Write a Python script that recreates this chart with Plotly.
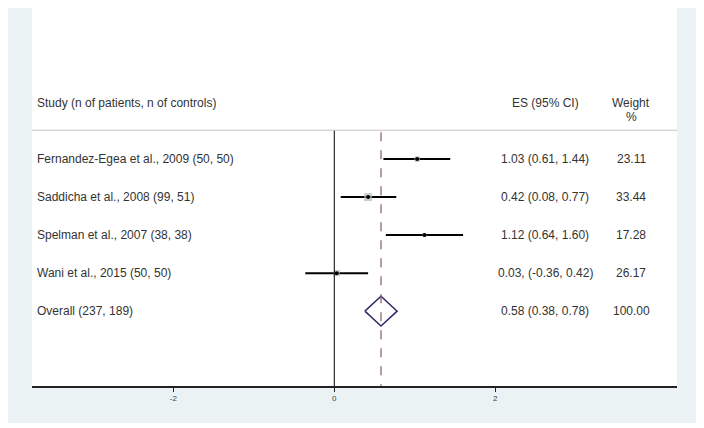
import plotly.graph_objects as go

studies = [
    "Fernandez-Egea et al., 2009 (50, 50)",
    "Saddicha et al., 2008 (99, 51)",
    "Spelman et al., 2007 (38, 38)",
    "Wani et al., 2015 (50, 50)",
]
es = [1.03, 0.42, 1.12, 0.03]
ci_low = [0.61, 0.08, 0.64, -0.36]
ci_high = [1.44, 0.77, 1.60, 0.42]
es_text = ["1.03 (0.61, 1.44)", "0.42 (0.08, 0.77)", "1.12 (0.64, 1.60)", "0.03, (-0.36, 0.42)"]
weights = [23.11, 33.44, 17.28, 26.17]
weight_text = ["23.11", "33.44", "17.28", "26.17"]

overall_label = "Overall (237, 189)"
overall_es = 0.58
overall_low = 0.38
overall_high = 0.78
overall_text = "0.58 (0.38, 0.78)"
overall_weight = "100.00"

x_ticks = [-2, 0, 2]

TEXT_COLOR = "#333333"
FONT = "Liberation Sans, Arial, sans-serif"

rows = list(range(len(studies)))
overall_row = len(studies)
header_row = -1.47
line_row = -0.76
y_bottom = 5.97
x_range = [-3.755, 4.257]
label_x = -3.72
es_col_x = 2.62
weight_col_x = 3.69

fig = go.Figure()

# confidence intervals
for r, lo, hi in zip(rows, ci_low, ci_high):
    fig.add_trace(
        go.Scatter(
            x=[lo, hi], y=[r, r], mode="lines",
            line=dict(color="black", width=2), hoverinfo="skip",
        )
    )

# weight boxes and point estimates
fig.add_trace(
    go.Scatter(
        x=es, y=rows, mode="markers",
        marker=dict(symbol="square", color="#b8b8b8", size=[w / 4.2 for w in weights], line=dict(width=0)),
        hoverinfo="skip",
    )
)
fig.add_trace(
    go.Scatter(
        x=es, y=rows, mode="markers",
        marker=dict(symbol="circle", color="black", size=4),
        hoverinfo="skip",
    )
)

# overall diamond
half_h = 0.39
fig.add_trace(
    go.Scatter(
        x=[overall_low, overall_es, overall_high, overall_es, overall_low],
        y=[overall_row, overall_row - half_h, overall_row, overall_row + half_h, overall_row],
        mode="lines", line=dict(color="#2e2b6b", width=1.5), hoverinfo="skip",
    )
)

# reference lines
fig.add_shape(type="line", x0=0, x1=0, y0=line_row, y1=y_bottom, xref="x", yref="y",
              line=dict(color="black", width=1))
fig.add_shape(type="line", x0=overall_es, x1=overall_es, y0=line_row + 0.05, y1=y_bottom, xref="x", yref="y",
              line=dict(color="#8a5a66", width=1.2, dash="dash"))
fig.add_shape(type="line", x0=0, x1=1, y0=line_row, y1=line_row, xref="paper", yref="y",
              line=dict(color="#c4c4c4", width=1))

# background panels (page has 8px body margin)
fig.add_shape(type="rect", xref="paper", yref="paper", x0=-0.05, x1=1.034, y0=-0.098, y1=1.01,
              fillcolor="#eaf2f3", line=dict(width=0), layer="below")
fig.add_shape(type="rect", xref="paper", yref="paper", x0=0, x1=1, y0=0, y1=1.01,
              fillcolor="white", line=dict(width=0), layer="below")

# text columns
def add_text(x, y, text, anchor):
    fig.add_annotation(x=x, y=y, xref="x", yref="y", text=text, showarrow=False,
                       xanchor=anchor, yanchor="middle", font=dict(size=12, color=TEXT_COLOR, family=FONT))

add_text(label_x, header_row, "Study (n of patients, n of controls)", "left")
add_text(es_col_x, header_row, "ES (95% CI)", "center")
add_text(weight_col_x, header_row, "Weight", "center")
add_text(weight_col_x, header_row + 0.36, "%", "center")

for r, name, t, w in zip(rows, studies, es_text, weight_text):
    add_text(label_x, r, name, "left")
    add_text(es_col_x, r, t, "center")
    add_text(weight_col_x, r, w, "center")

add_text(label_x, overall_row, overall_label, "left")
add_text(es_col_x, overall_row, overall_text, "center")
add_text(weight_col_x, overall_row, overall_weight, "center")

fig.update_layout(
    width=696, height=420,
    margin=dict(l=24, r=27, t=1, b=42),
    paper_bgcolor="white", plot_bgcolor="rgba(0,0,0,0)",
    showlegend=False,
    font=dict(family=FONT, color=TEXT_COLOR),
    xaxis=dict(
        range=x_range, tickvals=x_ticks, ticktext=[str(v) for v in x_ticks],
        showgrid=False, zeroline=False, showline=True, linecolor="#222222", linewidth=1.5,
        ticks="outside", ticklen=4, tickcolor="#222222", tickfont=dict(size=8, color="#444444"),
        fixedrange=True,
    ),
    yaxis=dict(range=[y_bottom, -3.95], visible=False, fixedrange=True),
)

fig.write_html("out.html")
